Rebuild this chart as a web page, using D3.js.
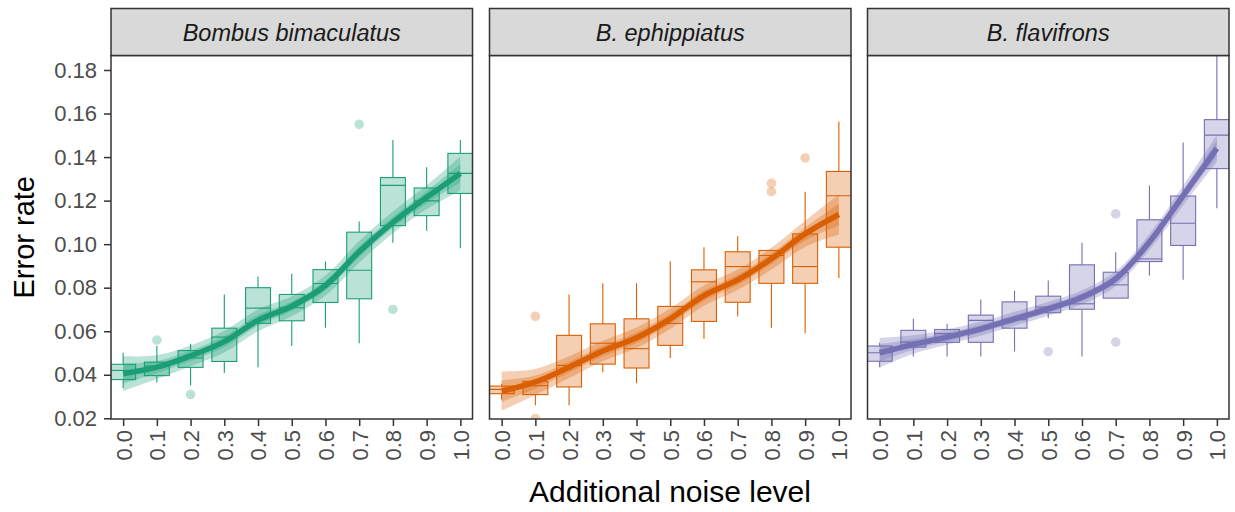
<!DOCTYPE html>
<html>
<head>
<meta charset="utf-8">
<script src="https://cdn.jsdelivr.net/npm/d3@7/dist/d3.min.js"></script>
<style>
html,body{margin:0;padding:0;background:#fff;}
svg{display:block;font-family:"Liberation Sans",Arial,Helvetica,sans-serif;}
</style>
</head>
<body>
<svg id="chart" width="1235" height="512"></svg>
<script>
// ---------- DATA ----------
const noiseLevels = [0.0,0.1,0.2,0.3,0.4,0.5,0.6,0.7,0.8,0.9,1.0];
const noiseTickLabels = ["0.0","0.1","0.2","0.3","0.4","0.5","0.6","0.7","0.8","0.9","1.0"];
const yTicks = [0.02,0.04,0.06,0.08,0.10,0.12,0.14,0.16,0.18];
const yTickLabels = ["0.02","0.04","0.06","0.08","0.10","0.12","0.14","0.16","0.18"];
const species = ["Bombus bimaculatus","B. ephippiatus","B. flavifrons"];
const speciesColors = ["#1b9e77","#d95f02","#7570b3"];

// Bombus bimaculatus
const bimacLow    = [0.0339,0.0365,0.0351,0.0408,0.0435,0.0532,0.0616,0.0545,0.1006,0.1062,0.0981];
const bimacQ1     = [0.0378,0.0396,0.0434,0.0461,0.0636,0.0648,0.0732,0.0749,0.1085,0.1131,0.1233];
const bimacMedian = [0.0420,0.0440,0.0477,0.0573,0.0706,0.0708,0.0819,0.0880,0.1270,0.1199,0.1325];
const bimacQ3     = [0.0448,0.0458,0.0511,0.0614,0.0800,0.0769,0.0883,0.1055,0.1306,0.1258,0.1417];
const bimacHigh   = [0.0501,0.0532,0.0543,0.0769,0.0851,0.0864,0.0920,0.1104,0.1478,0.1353,0.1478];
const bimacOutliers = [[0.1,0.0559],[0.2,0.0309],[0.7,0.1550],[0.8,0.0700]];
const bimacSmooth = [0.0405,0.0435,0.0487,0.0552,0.0650,0.0715,0.0810,0.0965,0.1100,0.1215,0.1325];
const bimacSeOuter = [0.0080,0.0055,0.0048,0.0050,0.0050,0.0046,0.0046,0.0050,0.0050,0.0055,0.0078];
const bimacSeInner = [0.0045,0.0028,0.0024,0.0025,0.0025,0.0022,0.0022,0.0025,0.0025,0.0028,0.0042];

// B. ephippiatus
const ephipLow    = [0.0286,0.0260,0.0260,0.0412,0.0361,0.0477,0.0566,0.0668,0.0616,0.0591,0.0845];
const ephipQ1     = [0.0313,0.0309,0.0344,0.0449,0.0431,0.0535,0.0645,0.0733,0.0820,0.0820,0.0986];
const ephipMedian = [0.0333,0.0350,0.0443,0.0545,0.0520,0.0636,0.0827,0.0897,0.0948,0.0897,0.1222];
const ephipQ3     = [0.0348,0.0370,0.0581,0.0634,0.0657,0.0714,0.0882,0.0965,0.0971,0.1047,0.1334];
const ephipHigh   = [0.0359,0.0372,0.0769,0.0820,0.0820,0.0922,0.0986,0.1036,0.0975,0.1241,0.1562];
const ephipOutliers = [[0.1,0.0668],[0.1,0.0199],[0.8,0.1279],[0.8,0.1241],[0.9,0.1396]];
const ephipSmooth = [0.0325,0.0367,0.0435,0.0509,0.0570,0.0657,0.0764,0.0836,0.0933,0.1047,0.1136];
const ephipSeOuter = [0.0090,0.0060,0.0050,0.0047,0.0047,0.0047,0.0047,0.0047,0.0050,0.0060,0.0092];
const ephipSeInner = [0.0050,0.0030,0.0025,0.0024,0.0024,0.0024,0.0024,0.0024,0.0025,0.0030,0.0050];

// B. flavifrons
const flaviLow    = [0.0435,0.0484,0.0484,0.0484,0.0507,0.0660,0.0484,0.0752,0.0856,0.0836,0.1165];
const flaviQ1     = [0.0462,0.0527,0.0549,0.0549,0.0614,0.0685,0.0701,0.0752,0.0920,0.0994,0.1347];
const flaviMedian = [0.0501,0.0550,0.0589,0.0650,0.0653,0.0711,0.0726,0.0813,0.0932,0.1096,0.1501];
const flaviQ3     = [0.0532,0.0604,0.0608,0.0674,0.0735,0.0761,0.0905,0.0871,0.1112,0.1221,0.1572];
const flaviHigh   = [0.0547,0.0657,0.0634,0.0746,0.0787,0.0833,0.1006,0.0963,0.1269,0.1467,0.1870];
const flaviOutliers = [[0.5,0.0506],[0.7,0.0550],[0.7,0.1139]];
const flaviSmooth = [0.0501,0.0539,0.0573,0.0611,0.0657,0.0703,0.0756,0.0841,0.1010,0.1223,0.1440];
const flaviSeOuter = [0.0068,0.0042,0.0035,0.0032,0.0032,0.0032,0.0032,0.0034,0.0037,0.0045,0.0062];
const flaviSeInner = [0.0040,0.0024,0.0020,0.0018,0.0018,0.0018,0.0018,0.0019,0.0021,0.0025,0.0036];

const panelsData = [
  {low:bimacLow,q1:bimacQ1,med:bimacMedian,q3:bimacQ3,high:bimacHigh,out:bimacOutliers,smooth:bimacSmooth,seO:bimacSeOuter,seI:bimacSeInner},
  {low:ephipLow,q1:ephipQ1,med:ephipMedian,q3:ephipQ3,high:ephipHigh,out:ephipOutliers,smooth:ephipSmooth,seO:ephipSeOuter,seI:ephipSeInner},
  {low:flaviLow,q1:flaviQ1,med:flaviMedian,q3:flaviQ3,high:flaviHigh,out:flaviOutliers,smooth:flaviSmooth,seO:flaviSeOuter,seI:flaviSeInner}
];

// ---------- LAYOUT ----------
const panelLefts = [111, 489.5, 867.5];
const panelW = 361.5;
const panelTop = 55.5, panelBottom = 419;
const stripTop = 8.5;
const boxWidth = 0.074;
const tickCol = "#333333", labCol = "#4d4d4d";

const svg = d3.select("#chart");
const y = d3.scaleLinear().domain([0.02, 0.18]).range([418.3, 70]);

// Y axis (left of first panel)
const yAxisG = svg.append("g").attr("transform", `translate(${panelLefts[0]},0)`);
yAxisG.call(d3.axisLeft(y).tickValues(yTicks).tickFormat((d,i)=>yTickLabels[i]).tickSize(7).tickPadding(7));
yAxisG.select(".domain").remove();
yAxisG.selectAll(".tick line").attr("stroke", tickCol).attr("stroke-width", 1.5);
yAxisG.selectAll(".tick text").attr("fill", labCol).style("font-size", "22px").style("font-family", "Liberation Sans, Arial, sans-serif");

species.forEach((sp, pi) => {
  const L = panelLefts[pi];
  const col = speciesColors[pi];
  const D = panelsData[pi];
  const x = d3.scaleLinear().domain([-0.036, 1.036]).range([L, L + panelW]);

  const clipId = "clip" + pi;
  svg.append("clipPath").attr("id", clipId).append("rect")
    .attr("x", L).attr("y", panelTop).attr("width", panelW).attr("height", panelBottom - panelTop);

  const g = svg.append("g").attr("clip-path", `url(#${clipId})`);

  // boxplots
  noiseLevels.forEach((n, i) => {
    const cx = x(n);
    const x0 = x(n - boxWidth/2), x1 = x(n + boxWidth/2);
    g.append("line").attr("x1", cx).attr("x2", cx).attr("y1", y(D.q3[i])).attr("y2", y(D.high[i]))
      .attr("stroke", col).attr("stroke-width", 1.1);
    g.append("line").attr("x1", cx).attr("x2", cx).attr("y1", y(D.q1[i])).attr("y2", y(D.low[i]))
      .attr("stroke", col).attr("stroke-width", 1.1);
    g.append("rect").attr("x", x0).attr("width", x1 - x0)
      .attr("y", y(D.q3[i])).attr("height", y(D.q1[i]) - y(D.q3[i]))
      .attr("fill", col).attr("fill-opacity", 0.3).attr("stroke", col).attr("stroke-width", 1.1);
    g.append("line").attr("x1", x0).attr("x2", x1).attr("y1", y(D.med[i])).attr("y2", y(D.med[i]))
      .attr("stroke", col).attr("stroke-width", 1.1);
  });
  g.selectAll(".outlier").data(D.out).enter().append("circle")
    .attr("cx", d => x(d[0])).attr("cy", d => y(d[1])).attr("r", 4.8)
    .attr("fill", col).attr("fill-opacity", 0.3);

  // ribbons and smooth line
  const pts = noiseLevels.map((n, i) => ({n, v: D.smooth[i], o: D.seO[i], s: D.seI[i]}));
  const curve = d3.curveCatmullRom.alpha(0.5);
  const areaO = d3.area().x(d => x(d.n)).y0(d => y(d.v - d.o)).y1(d => y(d.v + d.o)).curve(curve);
  const areaI = d3.area().x(d => x(d.n)).y0(d => y(d.v - d.s)).y1(d => y(d.v + d.s)).curve(curve);
  g.append("path").attr("d", areaO(pts)).attr("fill", col).attr("fill-opacity", 0.3);
  g.append("path").attr("d", areaI(pts)).attr("fill", col).attr("fill-opacity", 0.3);
  const line = d3.line().x(d => x(d.n)).y(d => y(d.v)).curve(curve);
  g.append("path").attr("d", line(pts)).attr("fill", "none").attr("stroke", col)
    .attr("stroke-width", 5.5).attr("stroke-linecap", "butt");

  // panel border
  svg.append("rect").attr("x", L).attr("y", panelTop).attr("width", panelW).attr("height", panelBottom - panelTop)
    .attr("fill", "none").attr("stroke", tickCol).attr("stroke-width", 1.5);

  // strip
  svg.append("rect").attr("x", L).attr("y", stripTop).attr("width", panelW).attr("height", panelTop - stripTop)
    .attr("fill", "#d9d9d9").attr("stroke", tickCol).attr("stroke-width", 1.5);
  svg.append("text").attr("x", L + panelW/2).attr("y", 40.8).attr("text-anchor", "middle")
    .attr("fill", "#1a1a1a").style("font-size", "23.5px").style("font-style", "italic").text(sp);

  // x axis
  const xAxisG = svg.append("g").attr("transform", `translate(0,${panelBottom})`);
  xAxisG.call(d3.axisBottom(x).tickValues(noiseLevels).tickFormat((d,i)=>noiseTickLabels[i]).tickSize(7));
  xAxisG.select(".domain").remove();
  xAxisG.selectAll(".tick line").attr("stroke", tickCol).attr("stroke-width", 1.5);
  xAxisG.selectAll(".tick text")
    .attr("fill", labCol).style("font-size", "22px").style("font-family", "Liberation Sans, Arial, sans-serif")
    .attr("transform", "rotate(-90)").attr("text-anchor", "end")
    .attr("x", -11).attr("y", 0).attr("dy", "0.36em");
});

// axis titles
svg.append("text").attr("x", (panelLefts[0] + panelLefts[2] + panelW)/2).attr("y", 502)
  .attr("text-anchor", "middle").attr("fill", "#000").style("font-size", "30px").text("Additional noise level");
svg.append("text").attr("transform", `translate(33.5,${(panelTop+panelBottom)/2}) rotate(-90)`)
  .attr("text-anchor", "middle").attr("fill", "#000").style("font-size", "29px").text("Error rate");
</script>
</body>
</html>
